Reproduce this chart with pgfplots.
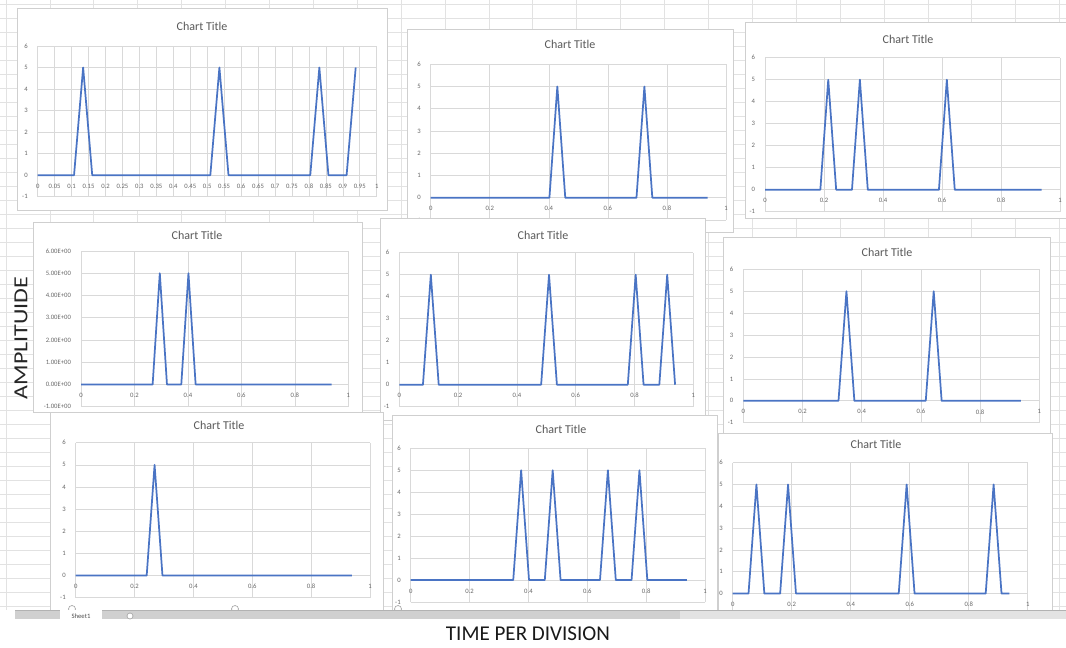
\documentclass[border=0pt]{standalone}
\usepackage{fontspec}
\setmainfont{Carlito}
\usepackage{pgfplots}
\pgfplotsset{compat=1.18}

\definecolor{exblue}{HTML}{4A74C4}
\definecolor{gridgray}{HTML}{D9D9D9}
\definecolor{framegray}{HTML}{CFCFCF}
\definecolor{labgray}{HTML}{686868}
\definecolor{titlegray}{HTML}{595959}
\definecolor{sheetgrid}{HTML}{E2E2E2}
\definecolor{barg}{HTML}{D0D0D0}
\definecolor{barl}{HTML}{E3E3E3}

\newcommand{\ticksize}{\fontsize{5}{6}\selectfont}
\newcommand{\titlesize}{\fontsize{9}{10}\selectfont}

% sheet coordinates: 1 unit = 0.75pt, y measured downwards from the top edge
\tikzset{sheet/.style={x=0.75pt,y=-0.75pt,yshift=485.25pt}}

% white chart area with its border and the default title
\newcommand{\chartbox}[6]{%
  \begin{scope}[sheet]
    \filldraw[fill=white,draw=framegray,line width=0.6pt] (#1,#2) rectangle (#3,#4);
    \node[font=\titlesize,text=titlegray] at (#5,#6) {Chart Title};
  \end{scope}}

\pgfplotsset{
  excel/.style={
    scale only axis, anchor=south west,
    xmin=0, xmax=1, ymin=-1, ymax=6,
    axis x line=middle, axis y line=left,
    x axis line style={draw=gridgray,line width=0.6pt,-},
    y axis line style={draw=none},
    hide obscured x ticks=false, hide obscured y ticks=false,
    grid=major, major grid style={draw=gridgray,line width=0.45pt},
    major tick length=0pt,
    ytick={-1,0,1,2,3,4,5,6},
    yticklabels={-1,0,1,2,3,4,5,6},
    xtick={0,0.2,0.4,0.6,0.8,1},
    xticklabels={0,0.2,0.4,0.6,0.8,1},
    tick label style={font=\ticksize,text=labgray},
    xticklabel style={yshift=-3pt},
    yticklabel style={xshift=-4pt},
    every axis plot post/.append style={draw=exblue,line width=1.3pt,mark=none,line join=round},
  }
}

\begin{document}
\begin{tikzpicture}
\useasboundingbox (0,0) rectangle (799.5pt,485.25pt);

% worksheet background and cell grid
\begin{scope}[sheet]
  \fill[white] (0,0) rectangle (1066,647);
  \foreach \k in {0,...,24} \draw[sheetgrid,line width=0.5pt] ({6+43.9*\k},0) -- ({6+43.9*\k},610);
  \foreach \k in {0,...,43} \draw[sheetgrid,line width=0.5pt] (0,{4+14*\k}) -- (1066,{4+14*\k});
\end{scope}

% ---------- top row ----------
\chartbox{17}{8}{387}{210}{202}{26}
\begin{axis}[excel, at={(28.28pt,337.73pt)}, width=254.25pt, height=113.03pt,
  xtick={0,0.05,0.1,0.15,0.2,0.25,0.3,0.35,0.4,0.45,0.5,0.55,0.6,0.65,0.7,0.75,0.8,0.85,0.9,0.95,1},
  xticklabels={0,0.05,0.1,0.15,0.2,0.25,0.3,0.35,0.4,0.45,0.5,0.55,0.6,0.65,0.7,0.75,0.8,0.85,0.9,0.95,1}]
\addplot coordinates {(0,0) (0.1072,0) (0.1340,5) (0.1608,0) (0.5092,0) (0.5360,5) (0.5628,0)
  (0.8040,0) (0.8308,5) (0.8576,0) (0.9112,0) (0.9380,5)};
\end{axis}

\chartbox{407}{29}{733}{232}{570}{44}
\begin{axis}[excel, at={(323.03pt,320.33pt)}, width=221.48pt, height=116.7pt]
\addplot coordinates {(0,0) (0.4020,0) (0.4288,5) (0.4556,0) (0.6968,0) (0.7236,5) (0.7504,0) (0.9380,0)};
\end{axis}

\chartbox{745}{22}{1068}{218}{908}{39}
\begin{axis}[excel, at={(573.75pt,326.48pt)}, width=221.25pt, height=115.5pt]
\addplot coordinates {(0,0) (0.1876,0) (0.2144,5) (0.2412,0) (0.2948,0) (0.3216,5) (0.3484,0)
  (0.5896,0) (0.6164,5) (0.6432,0) (0.9380,0)};
\end{axis}

% ---------- middle row ----------
\chartbox{33}{222}{362}{412}{197}{235}
\begin{axis}[excel, at={(60.75pt,180.23pt)}, width=200.48pt, height=116.78pt,
  yticklabels={-1.00E+00,0.00E+00,1.00E+00,2.00E+00,3.00E+00,4.00E+00,5.00E+00,6.00E+00}]
\addplot coordinates {(0,0) (0.2680,0) (0.2948,5) (0.3216,0) (0.3752,0) (0.4020,5) (0.4288,0) (0.9380,0)};
\end{axis}

\chartbox{380}{218}{705}{420}{543}{235}
\begin{axis}[excel, at={(299.48pt,180.23pt)}, width=220.5pt, height=115.5pt]
\addplot coordinates {(0,0) (0.0804,0) (0.1072,5) (0.1340,0) (0.4824,0) (0.5092,5) (0.5360,0)
  (0.7772,0) (0.8040,5) (0.8308,0) (0.8844,0) (0.9112,5) (0.9380,0)};
\end{axis}

\chartbox{723}{237}{1050}{434}{887}{252}
\begin{axis}[excel, at={(557.48pt,168.23pt)}, width=222pt, height=115.05pt]
\addplot coordinates {(0,0) (0.3216,0) (0.3484,5) (0.3752,0) (0.6164,0) (0.6432,5) (0.6700,0) (0.9380,0)};
\end{axis}

% ---------- bottom row ----------
\chartbox{50}{412}{383}{625}{219}{425}
\begin{axis}[excel, at={(56.78pt,36.98pt)}, width=220.73pt, height=116.25pt]
\addplot coordinates {(0,0) (0.2412,0) (0.2680,5) (0.2948,0) (0.9380,0)};
\end{axis}

\chartbox{392}{415}{717}{625}{561}{429}
\begin{axis}[excel, at={(308.03pt,33.75pt)}, width=220.73pt, height=115.28pt]
\addplot coordinates {(0,0) (0.3484,0) (0.3752,5) (0.4020,0) (0.4556,0) (0.4824,5) (0.5092,0)
  (0.6432,0) (0.6700,5) (0.6968,0) (0.7504,0) (0.7772,5) (0.8040,0) (0.9380,0)};
\end{axis}

\chartbox{718}{433}{1052}{625}{876}{444}
\begin{axis}[excel, at={(549.53pt,23.78pt)}, width=221.25pt, height=114.45pt]
\addplot coordinates {(0,0) (0.0536,0) (0.0804,5) (0.1072,0) (0.1608,0) (0.1876,5) (0.2144,0)
  (0.5628,0) (0.5896,5) (0.6164,0) (0.8576,0) (0.8844,5) (0.9112,0) (0.9380,0)};
\end{axis}

% ---------- sheet tab bar and axis captions ----------
\begin{scope}[sheet]
  \foreach \hx in {72,235,398}
    \filldraw[fill=white,draw=gray!70,line width=0.5pt] (\hx,609) circle (3.5);
  \fill[white] (0,619) rectangle (1066,647);
  \fill[barg] (15,610.7) rectangle (680,619);
  \fill[barl] (680,610.7) rectangle (1066,619);
  \draw[gray!60,line width=0.4pt] (15,610.7) -- (1066,610.7);
  \fill[white] (60,610) rectangle (102,620);
  \node[font=\fontsize{5}{6}\selectfont,text=black!70] at (81,616) {Sheet1};
  \filldraw[fill=white,draw=gray!70,line width=0.5pt] (130,616) circle (3);
  \node[rotate=90,xscale=1.2,font=\fontsize{15}{15}\selectfont,text=black!85] at (21,338) {AMPLITUIDE};
  \node[font=\fontsize{15.8}{16}\selectfont,text=black!90] at (528,634) {TIME PER DIVISION};
\end{scope}
\end{tikzpicture}
\end{document}
